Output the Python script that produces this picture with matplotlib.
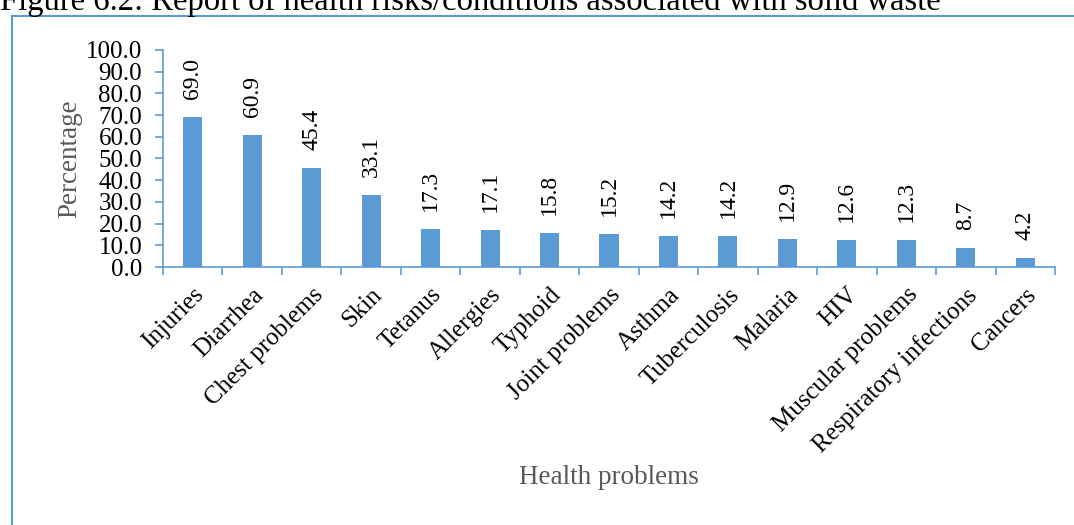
import matplotlib
matplotlib.use("Agg")
import matplotlib.pyplot as plt
from matplotlib.lines import Line2D
import numpy as np

# health problems reported and their share of respondents (%)
problems = ['Injuries', 'Diarrhea', 'Chest problems', 'Skin', 'Tetanus', 'Allergies',
            'Typhoid', 'Joint problems', 'Asthma', 'Tuberculosis', 'Malaria', 'HIV',
            'Muscular problems', 'Respiratory infections', 'Cancers']
percent = [69.0, 60.9, 45.4, 33.1, 17.3, 17.1, 15.8, 15.2, 14.2, 14.2, 12.9, 12.6, 12.3, 8.7, 4.2]
yticks = np.arange(0, 101, 10)

blue = '#5B9BD5'
grey = '#595959'
serif = 'Liberation Serif'

fig = plt.figure(figsize=(10.74, 5.25), dpi=100)
ax = fig.add_axes([0.1518, 0.4914, 0.8305, 0.4134])

x = np.arange(len(problems))
bars = ax.bar(x, percent, width=0.32, color=blue)

for b, v in zip(bars, percent):
    ax.annotate('{:.1f}'.format(v),
                xy=(b.get_x() + b.get_width() / 2, v),
                xytext=(0, 13), textcoords='offset points',
                rotation=90, ha='center', va='bottom',
                fontsize=17, family=serif)

ax.set_xlim(-0.5, len(problems) - 0.5)
ax.set_ylim(0, 100)
ax.set_yticks(yticks)
ax.set_yticklabels(['{:.1f}'.format(t) for t in yticks], fontsize=18, family=serif)
ax.set_xticks(np.arange(len(problems) + 1) - 0.5)
ax.set_xticklabels([])
ax.set_xticks(x, minor=True)
ax.set_xticklabels(problems, minor=True, rotation=45, ha='right', va='top',
                   rotation_mode='anchor', fontsize=18, family=serif)
ax.tick_params(axis='x', which='minor', length=0, pad=12)
ax.tick_params(axis='x', which='major', length=6, color=blue, width=1.2)
ax.tick_params(axis='y', length=6, color=blue, width=1.2, pad=9)

for s in ['top', 'right']:
    ax.spines[s].set_visible(False)
for s in ['left', 'bottom']:
    ax.spines[s].set_color(blue)
    ax.spines[s].set_linewidth(1.2)

ax.set_ylabel('Percentage', fontsize=19.5, family=serif, color=grey, labelpad=3)
fig.text(0.567, 1 - 478 / 525, 'Health problems', fontsize=19.5, family=serif,
         color=grey, ha='center', va='center')

# frame around the chart
fig.add_artist(Line2D([12 / 1074, 12 / 1074], [0, 1 - 16 / 525], color=blue, lw=1.5))
fig.add_artist(Line2D([12 / 1074, 1], [1 - 16 / 525, 1 - 16 / 525], color=blue, lw=1.5))

fig.text(0.0, 1 - 10 / 525, 'Figure 6.2: Report of health risks/conditions associated with solid waste',
         fontsize=23.5, family=serif, ha='left', va='baseline')

fig.savefig('out.png', dpi=100)
